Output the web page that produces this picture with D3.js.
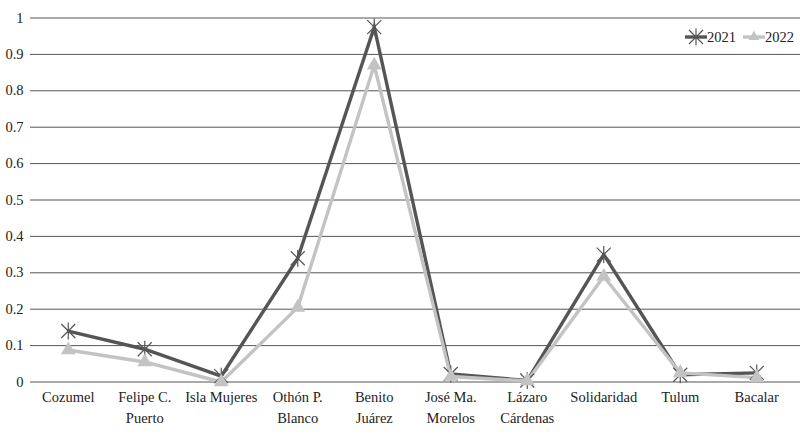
<!DOCTYPE html>
<html><head><meta charset="utf-8">
<script src="https://cdn.jsdelivr.net/npm/d3@7"></script>
<style>body{margin:0;background:#fff}svg{display:block}</style>
</head><body><svg id="c" width="800" height="439"></svg>
<script>
const categories = [["Cozumel"],["Felipe C.","Puerto"],["Isla Mujeres"],["Othón P.","Blanco"],["Benito","Juárez"],["José Ma.","Morelos"],["Lázaro","Cárdenas"],["Solidaridad"],["Tulum"],["Bacalar"]];
const values2021 = [0.14,0.09,0.016,0.34,0.975,0.022,0.004,0.35,0.02,0.025];
const values2022 = [0.088,0.055,0.0,0.205,0.87,0.015,0.003,0.29,0.025,0.012];
const yTicks = [0,0.1,0.2,0.3,0.4,0.5,0.6,0.7,0.8,0.9,1];
const seriesNames = ["2021","2022"];

const FONT = "Liberation Serif";
const FS = 14.5;
const svg = d3.select("#c");
const x = d3.scaleBand().domain(d3.range(categories.length)).range([30,795]);
const y = d3.scaleLinear().domain([0,1]).range([382,18]);
const cx = i => x(i) + x.bandwidth()/2;

svg.append("g").selectAll("line").data(yTicks).join("line")
  .attr("x1",30).attr("x2",800).attr("y1",d=>y(d)).attr("y2",d=>y(d))
  .attr("stroke","#555").attr("stroke-width",1);
svg.append("g").selectAll("text").data(yTicks).join("text")
  .attr("x",23.5).attr("y",d=>y(d)+4.5).attr("text-anchor","end")
  .attr("font-family",FONT).attr("font-size",FS).attr("fill","#222")
  .text(d=>d===0?"0":d===1?"1":d3.format(".1f")(d));

const xl = svg.append("g").selectAll("text").data(categories).join("text")
  .attr("x",(d,i)=>cx(i)).attr("y",402).attr("text-anchor","middle")
  .attr("font-family",FONT).attr("font-size",FS).attr("fill","#222");
xl.selectAll("tspan").data(d=>d).join("tspan")
  .attr("x",function(){return this.parentNode.getAttribute("x");})
  .attr("dy",(d,i)=>i===0?0:21).text(d=>d);

const line = d3.line().x((d,i)=>cx(i)).y(d=>y(d));
const starPath = "M-7,-7L7,7M-7,7L7,-7M0,-8.5L0,8.5";
function drawStar(g,px,py,col){
  g.append("path").attr("transform",`translate(${px},${py})`).attr("d",starPath)
   .attr("stroke",col).attr("stroke-width",1.2).attr("fill","none");
}
const tri = d3.symbol().type(d3.symbolTriangle).size(95);

svg.append("path").datum(values2021).attr("d",line).attr("fill","none").attr("stroke","#555").attr("stroke-width",3.4);
svg.append("path").datum(values2022).attr("d",line).attr("fill","none").attr("stroke","#c3c3c3").attr("stroke-width",3.4);
const gm = svg.append("g");
values2021.forEach((v,i)=>drawStar(gm,cx(i),y(v),"#555"));
svg.append("g").selectAll("path").data(values2022).join("path")
  .attr("transform",(d,i)=>`translate(${cx(i)},${y(d)})`).attr("d",tri).attr("fill","#c3c3c3");

// legend
const lg = svg.append("g");
lg.append("line").attr("x1",685).attr("x2",707).attr("y1",37).attr("y2",37).attr("stroke","#555").attr("stroke-width",3.4);
drawStar(lg,696,37,"#555");
lg.append("text").attr("x",707).attr("y",41.5).attr("font-family",FONT).attr("font-size",FS).attr("fill","#222").text(seriesNames[0]);
lg.append("line").attr("x1",743).attr("x2",765).attr("y1",37).attr("y2",37).attr("stroke","#c3c3c3").attr("stroke-width",3.4);
lg.append("path").attr("transform","translate(754,37)").attr("d",d3.symbol().type(d3.symbolTriangle).size(50)).attr("fill","#c3c3c3");
lg.append("text").attr("x",765).attr("y",41.5).attr("font-family",FONT).attr("font-size",FS).attr("fill","#222").text(seriesNames[1]);
</script></body></html>
